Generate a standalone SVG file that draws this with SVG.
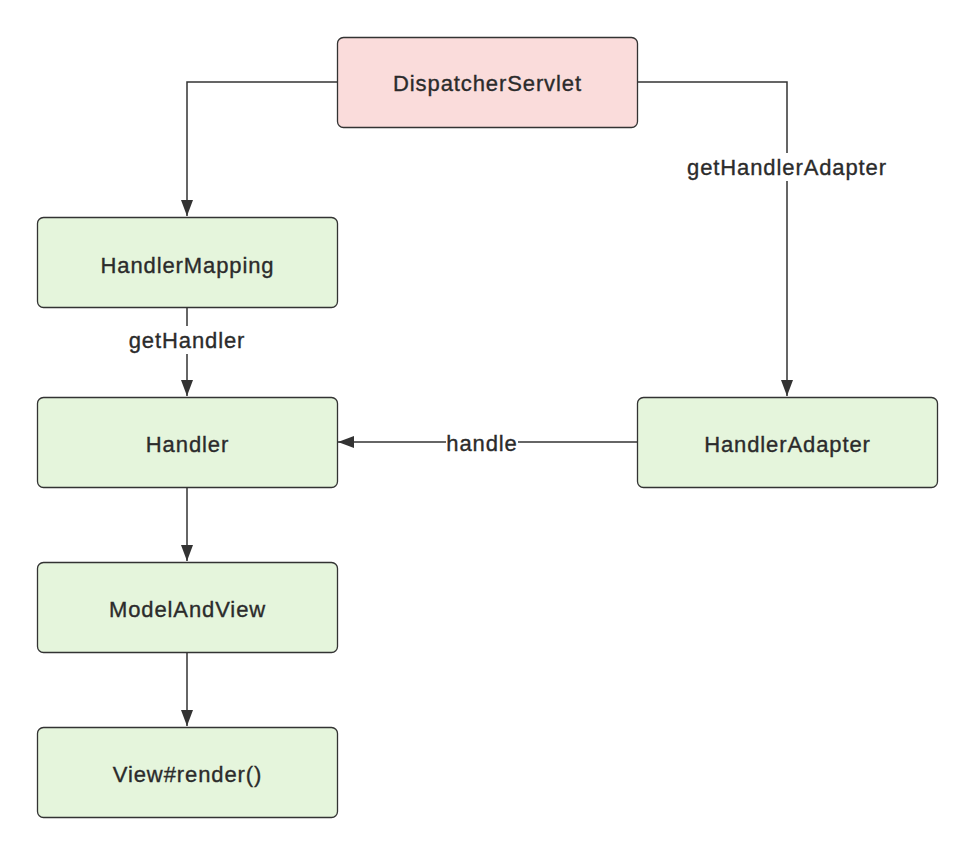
<svg xmlns="http://www.w3.org/2000/svg" width="975" height="855" viewBox="0 0 975 855">
<style>
.box{stroke:#333;stroke-width:1.3}
.red{fill:#fadcdb}
.grn{fill:#e5f5dc}
.t{font-family:"Liberation Sans",Arial,sans-serif;font-size:22px;fill:#2b2b2b;stroke:#2b2b2b;stroke-width:0.35px;text-anchor:middle;dominant-baseline:central;letter-spacing:0.9px}
.c{fill:none;stroke:#333;stroke-width:1.5}
.lbl{fill:#fff}
</style>
<defs>
<marker id="ah" viewBox="0 0 10 10" refX="10" refY="5" markerWidth="16" markerHeight="12" markerUnits="userSpaceOnUse" orient="auto" preserveAspectRatio="none">
<path d="M0,0 L10,5 L0,10 z" fill="#333"/>
</marker>
</defs>
<rect width="975" height="855" fill="#fff"/>
<g id="connectors">
<path class="c" d="M337,82 H187 V216" marker-end="url(#ah)"/>
<path class="c" d="M637,82 H787 V396" marker-end="url(#ah)"/>
<path class="c" d="M187,307 V396" marker-end="url(#ah)"/>
<path class="c" d="M637,442 H338" marker-end="url(#ah)"/>
<path class="c" d="M187,487 V561" marker-end="url(#ah)"/>
<path class="c" d="M187,652 V726" marker-end="url(#ah)"/>
<rect class="lbl" x="684" y="153" width="206" height="28"/>
<text class="t" x="787" y="167">getHandlerAdapter</text>
<rect class="lbl" x="126" y="326" width="122" height="28"/>
<text class="t" x="187" y="340">getHandler</text>
<rect class="lbl" x="446" y="430" width="72" height="26"/>
<text class="t" x="482" y="443">handle</text>
</g>
<g id="dispatcherServlet"><rect class="box red" x="337.5" y="37.5" width="300" height="90" rx="6"/><text class="t" x="487.5" y="83">DispatcherServlet</text></g>
<g id="handlerMapping"><rect class="box grn" x="37.5" y="217.5" width="300" height="90" rx="6"/><text class="t" x="187.5" y="265">HandlerMapping</text></g>
<g id="handler"><rect class="box grn" x="37.5" y="397.5" width="300" height="90" rx="6"/><text class="t" x="187.5" y="444">Handler</text></g>
<g id="handlerAdapter"><rect class="box grn" x="637.5" y="397.5" width="300" height="90" rx="6"/><text class="t" x="787.5" y="444">HandlerAdapter</text></g>
<g id="modelAndView"><rect class="box grn" x="37.5" y="562.5" width="300" height="90" rx="6"/><text class="t" x="187.5" y="609">ModelAndView</text></g>
<g id="viewRender"><rect class="box grn" x="37.5" y="727.5" width="300" height="90" rx="6"/><text class="t" x="187.5" y="774">View#render()</text></g>
</svg>
